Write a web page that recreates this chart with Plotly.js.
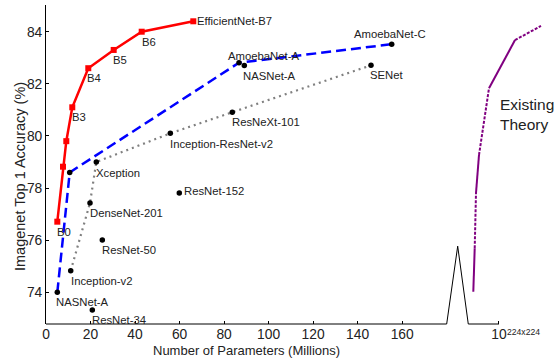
<!DOCTYPE html>
<html>
<head>
<meta charset="utf-8">
<script src="https://cdn.plot.ly/plotly-3.0.1.min.js"></script>
<style>html,body{margin:0;padding:0;background:#fff;}#chart{width:555px;height:361px;}</style>
</head>
<body>
<div id="chart"></div>
<script>
// ---- Data ----
const effNames  = ['B0', 'B1', 'B2', 'B3', 'B4', 'B5', 'B6', 'EfficientNet-B7'];
const effShown  = ['B0', '', '', 'B3', 'B4', 'B5', 'B6', 'EfficientNet-B7'];
const effParams = [5.08, 7.64, 9.12, 11.81, 19.0, 30.41, 42.99, 66.17];
const effAcc    = [76.71, 78.82, 79.8, 81.1, 82.6, 83.3, 84.0, 84.4];

const nasNames  = ['NASNet-A', '', 'AmoebaNet-A', 'AmoebaNet-C'];
const nasParams = [5.08, 10.65, 86.70, 155.30];
const nasAcc    = [74.0, 78.6, 82.81, 83.52];

const incNames  = ['Inception-v2', 'DenseNet-201', 'Xception', 'Inception-ResNet-v2', 'ResNeXt-101', 'SENet'];
const incParams = [11.10, 19.77, 22.60, 55.84, 83.69, 146.0];
const incAcc    = [74.83, 77.43, 79.0, 80.10, 80.91, 82.71];

const otherNames  = ['NASNet-A', 'ResNet-152', 'ResNet-50', 'ResNet-34'];
const otherParams = [89.08, 59.88, 25.29, 20.80];
const otherAcc    = [82.70, 77.81, 76.01, 73.32];

// "Existing Theory" curve (beyond the axis break)
const theoryX = [191.96, 192.59, 193.17, 194.52, 199.01, 210.69, 222.37];
const theoryY = [74.02, 75.69, 77.81, 79.27, 81.83, 83.68, 84.22];
const theorySegDashed = [false, true, false, true, false, true];

const xTickVals = [0, 20, 40, 60, 80, 100, 120, 140, 160, 203.5];
const xTickText = ['0', '20', '40', '60', '80', '100', '120', '140', '160', '10'];
const xTickSup = '224x224';
const yTickVals = [74, 76, 78, 80, 82, 84];

// ---- Layout constants ----
const FONT = 'Liberation Sans, Arial, Helvetica, sans-serif';
const yMin = 72.784, yMax = 85.025;
const xMax = 228.66;
const breakX = [180.0, 184.95, 189.7, 203.5];
const breakPeak = 0.244; // paper y

// Label offsets (pixels) per named point
const labelOffsets = {
  'B0': [0, -10], 'B3': [0, -10], 'B4': [-1, -10], 'B5': [-1, -10.5], 'B6': [0, -10],
  'EfficientNet-B7': [4, 0],
  'AmoebaNet-A': [-11, 7], 'AmoebaNet-C': [-38, 10],
  'NASNet-A@89.08': [-1, -10], 'NASNet-A@5.08': [-1, -10],
  'Inception-v2': [0, -10], 'DenseNet-201': [0, -10.5], 'Xception': [0, -10.5],
  'Inception-ResNet-v2': [0, -10.5], 'ResNeXt-101': [0, -10], 'SENet': [-1, -10],
  'ResNet-152': [5, 2], 'ResNet-50': [0, -10], 'ResNet-34': [0, -10]
};

const traces = [];
// Gray dotted line
traces.push({x: incParams, y: incAcc, mode: 'lines', type: 'scatter',
  line: {color: '#808080', width: 2.2, dash: '2px,4px'}, hoverinfo: 'skip', showlegend: false});
// Blue dashed line
traces.push({x: nasParams, y: nasAcc, mode: 'lines', type: 'scatter',
  line: {color: '#0000ff', width: 2.5, dash: '10px,5px'}, hoverinfo: 'skip', showlegend: false});
// Red EfficientNet line with squares
traces.push({x: effParams, y: effAcc, mode: 'lines+markers', type: 'scatter',
  line: {color: '#ff0000', width: 2.5},
  marker: {symbol: 'square', size: 6, color: '#ff0000'}, hoverinfo: 'skip', showlegend: false});
// Black dots
traces.push({x: nasParams.concat(incParams, otherParams), y: nasAcc.concat(incAcc, otherAcc),
  mode: 'markers', type: 'scatter', marker: {color: '#000', size: 5.5}, hoverinfo: 'skip', showlegend: false});

// Existing theory: split into solid and dashed pieces
const solidX = [], solidY = [], dashX = [], dashY = [];
for (let i = 0; i < theorySegDashed.length; i++) {
  const tx = theorySegDashed[i] ? dashX : solidX;
  const ty = theorySegDashed[i] ? dashY : solidY;
  tx.push(theoryX[i], theoryX[i + 1], null);
  ty.push(theoryY[i], theoryY[i + 1], null);
}
traces.push({x: solidX, y: solidY, mode: 'lines', type: 'scatter', connectgaps: false,
  line: {color: '#800080', width: 2}, hoverinfo: 'skip', showlegend: false});
traces.push({x: dashX, y: dashY, mode: 'lines', type: 'scatter', connectgaps: false,
  line: {color: '#800080', width: 2, dash: '3px,1.5px'}, hoverinfo: 'skip', showlegend: false});

// Point labels
const annotations = [];
function addLabels(names, xs, ys) {
  names.forEach((n, i) => {
    if (!n) return;
    const off = labelOffsets[n + '@' + xs[i]] || labelOffsets[n] || [0, -10];
    annotations.push({x: xs[i], y: ys[i], xref: 'x', yref: 'y', text: n, showarrow: false,
      xanchor: 'left', yanchor: 'middle', xshift: off[0], yshift: off[1],
      borderpad: 0, borderwidth: 0,
      font: {family: FONT, size: 11.3, color: '#222'}});
  });
}
addLabels(effShown, effParams, effAcc);
addLabels(nasNames, nasParams, nasAcc);
addLabels(incNames, incParams, incAcc);
addLabels(otherNames, otherParams, otherAcc);

// Existing theory text
annotations.push({x: (499 - 46) / 509, y: (324 - 114) / 319, xref: 'paper', yref: 'paper',
  text: 'Existing<br>Theory', showarrow: false, xanchor: 'left', yanchor: 'middle', align: 'left',
  borderpad: 0, font: {family: FONT, size: 15.5, color: '#222'}});
// superscript of the last tick label
annotations.push({x: breakX[3], y: 0, xref: 'x', yref: 'paper', text: xTickSup, showarrow: false,
  xanchor: 'left', yanchor: 'middle', xshift: 7, yshift: -7.5, borderpad: 0,
  font: {family: FONT, size: 8.6, color: '#222'}});
// axis titles
annotations.push({x: 246.3, y: 350, xref: 'paper', yref: 'paper', text: 'Number of Parameters (Millions)',
  showarrow: false, xanchor: 'center', yanchor: 'middle', borderpad: 0,
  font: {family: FONT, size: 13, color: '#222'}});
annotations.push({x: 20, y: 177, xref: 'paper', yref: 'paper', text: 'Imagenet Top 1 Accuracy (%)',
  showarrow: false, xanchor: 'center', yanchor: 'middle', textangle: -90, borderpad: 0,
  font: {family: FONT, size: 14.5, color: '#222'}});
// convert pixel-positioned titles to paper coordinates
const L = 46, T = 5, W = 509, H = 319;
annotations.slice(-2).forEach(a => {
  a.x = (a.x - L) / W;
  a.y = (T + H - a.y) / H;
});

const shapes = [{
  type: 'path', xref: 'x', yref: 'paper',
  path: `M 0,0 L ${breakX[0]},0 L ${breakX[1]},${breakPeak} L ${breakX[2]},0 L ${breakX[3]},0`,
  line: {color: '#000', width: 1}
}];

const layout = {
  width: 555, height: 361,
  margin: {l: L, r: 0, t: T, b: 37, pad: 0},
  paper_bgcolor: '#fff', plot_bgcolor: '#fff',
  font: {family: FONT, color: '#222'},
  showlegend: false,
  xaxis: {range: [0, xMax], showgrid: false, zeroline: false, showline: false,
    tickmode: 'array', tickvals: xTickVals, ticktext: xTickText,
    ticks: 'inside', ticklen: 3, tickcolor: '#000', tickwidth: 1,
    tickfont: {family: FONT, size: 13.8, color: '#222'}},
  yaxis: {range: [yMin, yMax], showgrid: false, zeroline: false, showline: true,
    linecolor: '#000', linewidth: 1,
    tickmode: 'array', tickvals: yTickVals, ticks: 'inside', ticklen: 3, tickcolor: '#000',
    tickfont: {family: FONT, size: 13.8, color: '#222'}},
  shapes: shapes,
  annotations: annotations
};

Plotly.newPlot('chart', traces, layout, {staticPlot: true, displayModeBar: false});
</script>
</body>
</html>
